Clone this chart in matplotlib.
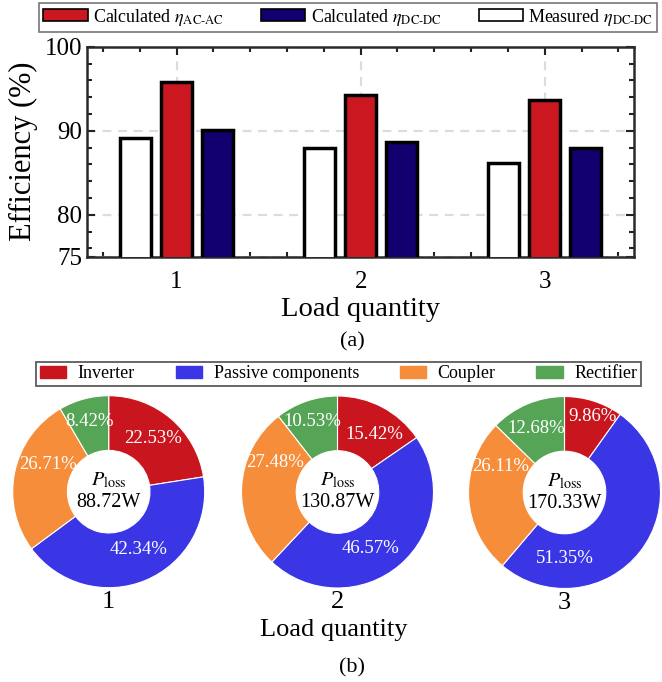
import matplotlib
matplotlib.use('Agg')
import matplotlib.pyplot as plt
from matplotlib.patches import Patch
from matplotlib.ticker import MultipleLocator
import numpy as np

plt.rcParams['font.family'] = ['Liberation Serif', 'DejaVu Serif']
plt.rcParams['mathtext.fontset'] = 'stix'

# --- data (a): efficiency vs load quantity ---
loads = [1, 2, 3]
measured_dcdc = [89.1, 88.0, 86.2]
calc_acac = [95.8, 94.3, 93.6]
calc_dcdc = [90.1, 88.7, 88.0]

# --- data (b): loss breakdown, % ---
loss_parts = ['Inverter', 'Passive components', 'Coupler', 'Rectifier']
loss_share_1 = [22.53, 42.34, 26.71, 8.42]
loss_share_2 = [15.42, 46.57, 27.48, 10.53]
loss_share_3 = [9.86, 51.35, 26.11, 12.68]
p_loss = ['88.72W', '130.87W', '170.33W']

red = '#cb1820'
navy = '#12006e'
pie_colors = ['#c9161e', '#3a36e6', '#f58d3b', '#56a557']

# where the percentage labels sit inside each donut (radius, angle in deg)
pct_pos = [
    [(0.72, 50), (0.68, -63), (0.69, 156), (0.76, 105)],
    [(0.71, 57), (0.68, -60), (0.72, 155), (0.78, 110)],
    [(0.84, 70), (0.69, -90), (0.72, 158), (0.73, 114)],
]

W, H = 662, 682
fig = plt.figure(figsize=(W / 100, H / 100), dpi=100)


def fx(px):
    return px / W


def fy(py):
    return 1 - py / H


# ---------- (a) bars ----------
ax = fig.add_axes([fx(87.3), fy(256.7), (634 - 87.3) / W, (256.7 - 46.7) / H])
x = np.array(loads)
w, off = 0.17, 0.223
ax.bar(x - off, measured_dcdc, w, color='white', edgecolor='black', lw=2.5, zorder=3)
ax.bar(x, calc_acac, w, color=red, edgecolor='black', lw=2.5, zorder=3)
ax.bar(x + off, calc_dcdc, w, color=navy, edgecolor='black', lw=2.5, zorder=3)

ax.set_xlim(0.515, 3.485)
ax.set_ylim(75, 100)
ax.set_xticks(loads)
ax.set_yticks([75, 80, 90, 100])
ax.xaxis.set_minor_locator(MultipleLocator(0.2))
ax.yaxis.set_minor_locator(MultipleLocator(2))
ax.set_axisbelow(True)
ax.grid(True, which='major', ls=(0, (4, 3)), color='#dcdcdc', lw=1.6)
ax.tick_params(which='both', direction='in', top=True, right=True,
               width=1.5, color='#222222', labelsize=18)
ax.tick_params(which='major', length=5.5)
ax.tick_params(which='minor', length=3.5)
ax.tick_params(axis='x', pad=10)
ax.tick_params(axis='y', pad=3.5)
for s in ax.spines.values():
    s.set_linewidth(1.8)
    s.set_color('#2a2a2a')
ax.set_ylabel('Efficiency (%)', fontsize=22, labelpad=5)
ax.set_xlabel('Load quantity', fontsize=20.5, labelpad=3)

top_handles = [
    Patch(fc=red, ec='black', lw=1.2, label=r'Calculated $\eta_{\mathrm{AC\text{-}AC}}$'),
    Patch(fc=navy, ec='black', lw=1.2, label=r'Calculated $\eta_{\mathrm{DC\text{-}DC}}$'),
    Patch(fc='white', ec='black', lw=1.2, label=r'Measured $\eta_{\mathrm{DC\text{-}DC}}$'),
]
leg = fig.legend(handles=top_handles, loc='lower left',
                 bbox_to_anchor=(fx(39.3), fy(31.7), (657 - 39.3) / W, 29 / H),
                 mode='expand', ncol=3, fontsize=13, fancybox=False,
                 edgecolor='#555555', borderaxespad=0, borderpad=0.22,
                 handlelength=2.45, handleheight=0.65, handletextpad=0.3)
leg.get_frame().set_linewidth(1.2)

fig.text(fx(352), fy(341.7), '(a)', ha='center', va='center', fontsize=16)

# ---------- (b) donuts ----------
shares = [loss_share_1, loss_share_2, loss_share_3]
centers = [(108.7, 491.7), (337.5, 492.0), (564.5, 492.5)]
r = 96
for i, (cx, cy) in enumerate(centers):
    pax = fig.add_axes([fx(cx - r), fy(cy + r), 2 * r / W, 2 * r / H])
    wedges, _, pcts = pax.pie(shares[i], colors=pie_colors, startangle=90,
                              counterclock=False, autopct='%.2f%%', pctdistance=0.72,
                              wedgeprops=dict(width=0.57, edgecolor='white', linewidth=0.8),
                              textprops=dict(color='white', fontsize=13.5))
    for t, (rr, ang) in zip(pcts, pct_pos[i]):
        t.set_position((rr * np.cos(np.radians(ang)), rr * np.sin(np.radians(ang))))
    pax.set_xlim(-1, 1)
    pax.set_ylim(-1, 1)
    pax.text(0, 0.12, r'$P_{\mathrm{loss}}$', ha='center', va='center', fontsize=14.5)
    pax.text(0, -0.11, p_loss[i], ha='center', va='center', fontsize=14.5)
    pax.text(0, -1.15, str(loads[i]), ha='center', va='center', fontsize=19,
             clip_on=False)

bot_handles = [Patch(color=c, label=l) for c, l in zip(pie_colors, loss_parts)]
leg2 = fig.legend(handles=bot_handles, loc='lower left',
                  bbox_to_anchor=(fx(36), fy(386), (641 - 36) / W, 25 / H),
                  mode='expand', ncol=4, fontsize=13, fancybox=False,
                  edgecolor='#333333', borderaxespad=0, borderpad=0.2,
                  handlelength=1.45, handleheight=0.6, handletextpad=0.65)
leg2.get_frame().set_linewidth(1.3)

fig.text(fx(334), fy(630), 'Load quantity', ha='center', va='center', fontsize=19)
fig.text(fx(352), fy(668), '(b)', ha='center', va='center', fontsize=16)

fig.savefig('out.png', dpi=100)
